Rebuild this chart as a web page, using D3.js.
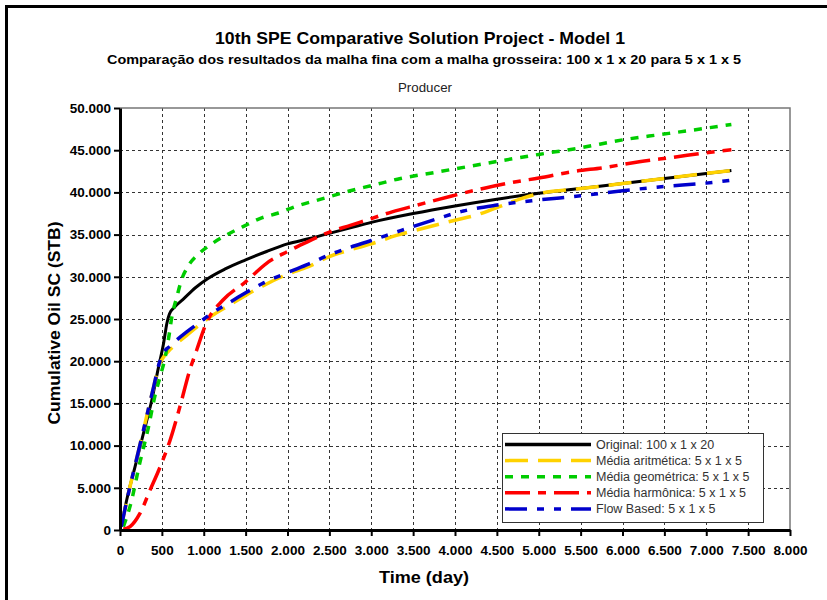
<!DOCTYPE html>
<html>
<head>
<meta charset="utf-8">
<script src="https://cdnjs.cloudflare.com/ajax/libs/d3/7.8.5/d3.min.js"></script>
<style>
body { margin: 0; background: #fff; }
text { font-family: Arial, "Liberation Sans", sans-serif; }
</style>
</head>
<body>
<svg id="chart" width="827" height="600"></svg>
<script>
// axis ticks
const xTicks = d3.range(0, 8001, 500)
const yTicks = d3.range(0, 50001, 5000)

// Original: 100 x 1 x 20
const tOriginal = [15, 80, 180, 280, 380, 460, 520, 560, 590, 650, 750, 900, 1050, 1250, 1500, 1750, 2000, 2250, 2500, 2750, 3000, 3500, 4000, 4500, 5000, 5500, 6000, 6500, 7000, 7300]
const vOriginal = [400, 3550, 7500, 11450, 15400, 19300, 22100, 24500, 25600, 26400, 27300, 28700, 29800, 30900, 32000, 33000, 33900, 34500, 35150, 35800, 36450, 37500, 38400, 39200, 39900, 40450, 41050, 41650, 42250, 42600]

// Média aritmética: 5 x 1 x 5
const tArit = [15, 100, 200, 300, 400, 470, 520, 600, 700, 800, 950, 1100, 1300, 1500, 1700, 2000, 2250, 2500, 2750, 3000, 3300, 3600, 4000, 4250, 4500, 4800, 5000, 5500, 6000, 6500, 7000, 7300]
const vArit = [400, 4300, 8500, 12700, 16900, 19600, 20500, 21400, 22300, 23100, 24300, 25400, 26600, 27800, 28900, 30300, 31200, 32400, 33200, 33900, 34900, 35700, 36700, 37300, 38200, 39300, 39850, 40450, 41050, 41650, 42250, 42600]

// Média geométrica: 5 x 1 x 5
const tGeom = [40, 120, 240, 340, 420, 480, 540, 580, 620, 680, 730, 810, 950, 1110, 1270, 1470, 1670, 1870, 2100, 2400, 2750, 3000, 3350, 3750, 4150, 4550, 5000, 5450, 6050, 6450, 6850, 7300]
const vGeom = [400, 2800, 8100, 12200, 16000, 18200, 20500, 22700, 25300, 27650, 29500, 31200, 32800, 34000, 34950, 35950, 36900, 37500, 38350, 39200, 40200, 40800, 41650, 42350, 43050, 43750, 44500, 45200, 46300, 46850, 47400, 48050]

// Média harmônica: 5 x 1 x 5
const tHarm = [40, 120, 240, 360, 480, 600, 715, 835, 915, 1030, 1230, 1500, 1750, 2000, 2250, 2500, 2750, 3000, 3250, 3550, 3950, 4350, 4750, 5000, 5400, 5800, 6200, 6600, 7000, 7300]
const vHarm = [80, 400, 2000, 4750, 7500, 10700, 14600, 19000, 21300, 24500, 27250, 29400, 31600, 33000, 34200, 35300, 36100, 36900, 37700, 38500, 39550, 40500, 41300, 41700, 42450, 42970, 43640, 44150, 44700, 45050]

// Flow Based: 5 x 1 x 5
const tFlow = [15, 100, 200, 300, 400, 470, 520, 600, 700, 800, 950, 1100, 1300, 1500, 1700, 2000, 2250, 2500, 2750, 3000, 3300, 3700, 4100, 4500, 5000, 5500, 6000, 6500, 7000, 7300]
const vFlow = [400, 4300, 8500, 12700, 16900, 19800, 21000, 21800, 22700, 23500, 24600, 25700, 26900, 28100, 29200, 30500, 31500, 32600, 33500, 34300, 35300, 36600, 37800, 38500, 39100, 39600, 40200, 40700, 41100, 41450]

const seriesNames = ["Original: 100 x 1 x 20", "Média aritmética: 5 x 1 x 5", "Média geométrica: 5 x 1 x 5", "Média harmônica: 5 x 1 x 5", "Flow Based: 5 x 1 x 5"]

const series = [
    { name: seriesNames[0], t: tOriginal, v: vOriginal, color: "#000000", dash: null, width: 3 },
    { name: seriesNames[1], t: tArit, v: vArit, color: "#ffd200", dash: "23,10", width: 3.5 },
    { name: seriesNames[2], t: tGeom, v: vGeom, color: "#00cc00", dash: "8,8", width: 3.5 },
    { name: seriesNames[3], t: tHarm, v: vHarm, color: "#ff0000", dash: "25,8,8,8", width: 3.5 },
    { name: seriesNames[4], t: tFlow, v: vFlow, color: "#0000cc", dash: "22,10,7,10,7,10", width: 3.5 }
]

const svg = d3.select("#chart")
const fmt = d3.formatLocale({ decimal: ",", thousands: ".", grouping: [3], currency: ["", ""] }).format(",d")

const plotLeft = 120, plotRight = 790, plotTop = 108, plotBottom = 530

const x = d3.scaleLinear().domain([0, 8000]).range([plotLeft, plotRight])
const y = d3.scaleLinear().domain([0, 50000]).range([plotBottom, plotTop])

// outer frame
svg.append("rect")
    .attr("x", 6.5).attr("y", 6.5).attr("width", 840).attr("height", 620)
    .attr("fill", "#fff").attr("stroke", "#000").attr("stroke-width", 3)

// titles
function addText(txt, cx, cy, size, weight, len, fill) {
    return svg.append("text")
        .attr("x", cx).attr("y", cy)
        .attr("text-anchor", "middle")
        .attr("font-size", size)
        .attr("font-weight", weight)
        .attr("fill", fill || "#000")
        .attr("textLength", len)
        .attr("lengthAdjust", "spacingAndGlyphs")
        .text(txt)
}
addText("10th SPE Comparative Solution Project - Model 1", 420, 44, 17, "bold", 410)
addText("Comparação dos resultados da malha fina com a malha grosseira: 100 x 1 x 20 para 5 x 1 x 5", 424, 64, 13, "bold", 634)
addText("Producer", 425, 92, 12, "normal", 54, "#222")

// grid
svg.append("g").selectAll("line")
    .data(xTicks.slice(1, -1))
    .join("line")
    .attr("x1", d => Math.round(x(d)) + 0.5).attr("x2", d => Math.round(x(d)) + 0.5)
    .attr("y1", plotTop).attr("y2", plotBottom)
    .attr("stroke", "#333").attr("stroke-width", 1).attr("stroke-dasharray", "3,3")

svg.append("g").selectAll("line")
    .data(yTicks.slice(1, -1))
    .join("line")
    .attr("x1", plotLeft).attr("x2", plotRight)
    .attr("y1", d => Math.round(y(d)) + 0.5).attr("y2", d => Math.round(y(d)) + 0.5)
    .attr("stroke", "#333").attr("stroke-width", 1).attr("stroke-dasharray", "3,3")

// plot border (top and right)
svg.append("path")
    .attr("d", `M${plotLeft},${plotTop}H${plotRight}V${plotBottom}`)
    .attr("fill", "none").attr("stroke", "#777").attr("stroke-width", 1.5)

// curves
const line = d3.line()
    .x(d => x(d[0]))
    .y(d => y(d[1]))
    .curve(d3.curveMonotoneX)

series.forEach(s => {
    svg.append("path")
        .datum(d3.zip(s.t, s.v))
        .attr("d", line)
        .attr("fill", "none")
        .attr("stroke", s.color)
        .attr("stroke-width", s.width)
        .attr("stroke-dasharray", s.dash)
})

// axes
const gx = svg.append("g")
    .attr("transform", `translate(0,${plotBottom})`)
    .call(d3.axisBottom(x).tickValues(xTicks).tickSizeInner(6).tickSizeOuter(0).tickPadding(9).tickFormat(fmt))
gx.select(".domain").attr("stroke-width", 3)
gx.selectAll(".tick line").attr("stroke-width", 2)
gx.selectAll("text").attr("font-size", 13.5).attr("font-weight", "bold").attr("font-family", "Arial, 'Liberation Sans', sans-serif").attr("fill", "#000")

const gy = svg.append("g")
    .attr("transform", `translate(${plotLeft},0)`)
    .call(d3.axisLeft(y).tickValues(yTicks).tickSizeInner(6).tickSizeOuter(0).tickPadding(3).tickFormat(fmt))
gy.select(".domain").attr("stroke-width", 3)
gy.selectAll(".tick line").attr("stroke-width", 2)
gy.selectAll("text").attr("font-size", 13.5).attr("font-weight", "bold").attr("font-family", "Arial, 'Liberation Sans', sans-serif").attr("fill", "#000")

// axis titles
addText("Time (day)", 424, 583, 17, "bold", 90)
svg.append("text")
    .attr("transform", "translate(60,323) rotate(-90)")
    .attr("text-anchor", "middle")
    .attr("font-size", 17).attr("font-weight", "bold")
    .attr("textLength", 203).attr("lengthAdjust", "spacingAndGlyphs")
    .text("Cumulative Oil SC (STB)")

// legend
const lg = svg.append("g").attr("transform", "translate(502,433)")
lg.append("rect")
    .attr("x", 0.5).attr("y", 0.5).attr("width", 261).attr("height", 89)
    .attr("fill", "#fff").attr("stroke", "#333").attr("stroke-width", 1)

const rows = lg.selectAll("g.row")
    .data(series)
    .join("g")
    .attr("class", "row")
    .attr("transform", (d, i) => `translate(0,${11.5 + i * 16.1})`)

rows.append("line")
    .attr("x1", 3).attr("x2", 89)
    .attr("stroke", d => d.color)
    .attr("stroke-width", 3.5)
    .attr("stroke-dasharray", d => d.dash)

rows.append("text")
    .attr("x", 94).attr("y", 4.5)
    .attr("font-size", 12.5)
    .attr("fill", "#333")
    .text(d => d.name)
</script>
</body>
</html>
